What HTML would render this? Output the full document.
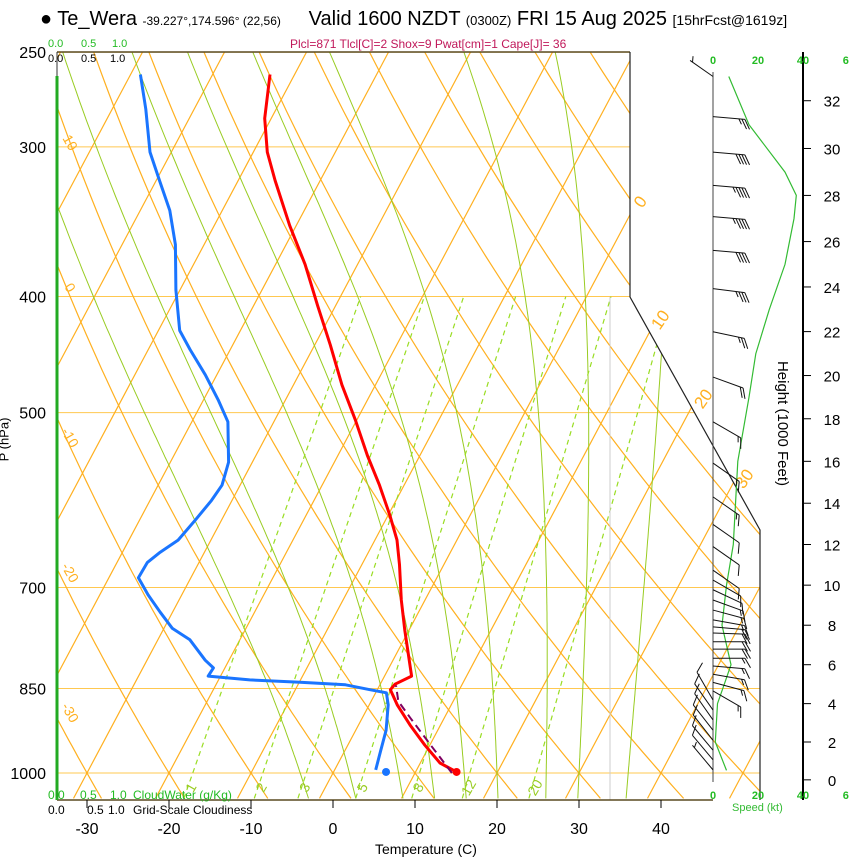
<!DOCTYPE html>
<html><head><meta charset="utf-8"><style>
body{margin:0;background:#fff;}
svg{display:block;font-family:"Liberation Sans",Arial,sans-serif;}
</style></head><body>
<svg id="c" width="850" height="860" viewBox="0 0 850 860" xmlns="http://www.w3.org/2000/svg">
<defs><clipPath id="clip"><polygon points="57,52 630,52 630,297 760,530 760,800 57,800"/></clipPath></defs>
<g id="grid" clip-path="url(#clip)"></g>
<g id="data" clip-path="url(#clip)"></g>
<g id="frame"></g>
<g id="labels"></g>
<g id="wind"></g>
</svg>
<script>
// ---------- data ----------
const tempP=[261,284,303,320,349,376,407,439,474,507,543,575,609,639,670,717,760,830,843,852,877,912,948,981,998];
const tempT=[-53.0,-50.8,-48.3,-45.5,-40.8,-36.4,-32.2,-28.1,-24.1,-20.2,-16.4,-13.0,-9.8,-7.3,-5.4,-2.9,-0.5,3.3,1.8,1.6,3.4,6.3,9.4,12.4,15.0];
const dewP=[261,279,303,320,339,362,395,427,443,465,488,509,550,575,592,615,639,654,667,687,710,734,757,774,805,817,830,836,840,844,852,857,877,921,960,994];
const dewT=[-68.8,-65.9,-62.6,-59.6,-56.4,-53.5,-50.5,-47.4,-44.9,-41.4,-38.2,-35.6,-32.9,-32.2,-32.5,-33.2,-34.0,-35.4,-36.3,-36.4,-34.1,-31.5,-29.0,-26.1,-22.9,-21.4,-21.5,-16.2,-9.9,-4.2,-0.9,1.3,2.3,3.7,4.4,5.0];
const parcelP=[1000,950,900,871,845];
const parcelT=[14.5,10.3,5.9,3.3,2.0];
const sfcT=15.0, sfcTd=6.4;
const windP=[262,283,303,323,343,366,394,428,467,509,551,588,620,647,677,690,703,717,731,745,755,764,777,788,802,814,827,840,854,869,886,903,921,939,957,975,994];
const windDir=[305,95,95,95,95,95,97,102,110,120,125,125,125,125,125,120,115,110,105,100,95,92,90,90,90,95,100,105,120,330,325,325,322,322,320,320,320];
const windSpd=[5,25,40,45,45,40,35,25,20,15,15,15,12,12,10,12,12,15,15,18,20,22,20,20,18,18,18,18,15,10,10,10,10,10,10,10,5];
const speedProfH=[33,31,29,28,27,25,23,21,19,16,12,10,8,6,5,4,2,0.5];
const speedProfKt=[7,16,32,37,36,32,25,19,16,11,9,6,4,8,5,2,1,6];
const tempTicks=[-30,-20,-10,0,10,20,30,40];
const presTicks=[250,300,400,500,700,850,1000];
const heightTicks=[0,2,4,6,8,10,12,14,16,18,20,22,24,26,28,30,32];
const mixRatios=[1,2,3,5,8,12,20];
const isotherms=[-110,-100,-90,-80,-70,-60,-50,-40,-30,-20,-10,0,10,20,30,40,50];
const dryAdiabats=[-30,-20,-10,0,10,20,30,40,50,60,70,80,90,100,110,120,130,140,150,160,170];
const moistAdiabats=[-4,2,8,12,16,20,26,30,36];

// ---------- axes ----------
const yP=p=>773-520*Math.log(1000/p);
const xT=(T,p)=>333+8.2*T+0.532*(773-yP(p));
const speedX=k=>713+2.25*k;
const hToP=hk=>{const m=hk*304.8;return 1013.25*Math.pow(1-2.25577e-5*m,5.2559);};
const NS='http://www.w3.org/2000/svg';
function el(tag,attrs,parent,text){const e=document.createElementNS(NS,tag);for(const k in attrs)e.setAttribute(k,attrs[k]);if(text!==undefined)e.textContent=text;parent.appendChild(e);return e;}
const G=document.getElementById('grid'),D=document.getElementById('data'),F=document.getElementById('frame'),L=document.getElementById('labels'),W=document.getElementById('wind');
const pts=(arrP,arrT)=>arrP.map((p,i)=>xT(arrT[i],p).toFixed(1)+','+yP(p).toFixed(1)).join(' ');

presTicks.forEach(p=>{
  const l=el('line',{x1:57,x2:760,y1:yP(p),y2:yP(p),stroke:'#ffc850','stroke-width':1},G);
  
  
});
isotherms.forEach(T=>{
  const l=el('line',{x1:xT(T,1050),y1:yP(1050),x2:xT(T,250),y2:yP(250),stroke:'#ffb020','stroke-width':1.2},G);
  
  
});
const dryT=(th,p)=>(th+273.15)*Math.pow(p/1000,0.286)-273.15;
dryAdiabats.forEach(th=>{
  let s=[];for(let p=1050;p>=245;p-=10)s.push(xT(dryT(th,p),p).toFixed(1)+','+yP(p).toFixed(1));
  const l=el('polyline',{points:s.join(' '),fill:'none',stroke:'#ffb020','stroke-width':1.2},G);
  
  
});
function esat(T){return 6.112*Math.exp(17.67*T/(T+243.5));}
function rs(T,p){const e=esat(T);return 0.622*e/(p-e);}
moistAdiabats.forEach(t0=>{
  let T=t0,p=1000,s=[];
  let Td=t0,pd=1000;
  const step=(T,p)=>{const Tk=T+273.15,r=rs(T,p);return (287*Tk+2.5e6*r)/(1004+2.5e6*2.5e6*r*0.622/(287*Tk*Tk))/p;};
  while(pd<1050){Td+=step(Td,pd)*5;pd+=5;}
  s.push(xT(Td,pd).toFixed(1)+','+yP(pd).toFixed(1));
  while(p>245){s.push(xT(T,p).toFixed(1)+','+yP(p).toFixed(1));T-=step(T,p)*5;p-=5;}
  const l=el('polyline',{points:s.join(' '),fill:'none',stroke:'#99cc22','stroke-width':1},G);
  
  
});
function tdFromW(w,p){const e=w*p/(622+w);const a=Math.log(e/6.112);return 243.5*a/(17.67-a);}
mixRatios.forEach(w=>{
  const l=el('line',{x1:xT(tdFromW(w,1050),1050),y1:yP(1050),x2:xT(tdFromW(w,400),400),y2:yP(400),stroke:'#99dd22','stroke-width':1.2,'stroke-dasharray':'5,4'},G);
  
  
  const x=xT(tdFromW(w,1025),1025)+7,y=yP(1025)+4;
  const t=el('text',{x:x,y:y,fill:'#99cc22','font-size':14,'text-anchor':'middle',transform:`rotate(-60 ${x} ${y})`},L,String(w));
  
  
});
el('line',{x1:610,x2:610,y1:297,y2:800,stroke:'#ccc','stroke-width':1},G);

let dw=el('polyline',{points:pts(dewP,dewT),fill:'none',stroke:'#1a75ff','stroke-width':3,'stroke-linejoin':'round'},D);


let tp=el('polyline',{points:pts(tempP,tempT),fill:'none',stroke:'#ff0000','stroke-width':3,'stroke-linejoin':'round'},D);


let pc=el('polyline',{points:pts(parcelP,parcelT),fill:'none',stroke:'#800060','stroke-width':2,'stroke-dasharray':'8,5'},D);


let d1=el('circle',{cx:xT(sfcT,998),cy:yP(998),r:4,fill:'#ff0000'},D);


let d2=el('circle',{cx:xT(sfcTd,998),cy:yP(998),r:4,fill:'#1a75ff'},D);



el('line',{x1:57,y1:52,x2:630,y2:52,stroke:'#5a4a20','stroke-width':1.5},F);
el('polyline',{points:'630,52 630,297 760,530 760,800',fill:'none',stroke:'#222','stroke-width':1.2},F);
el('line',{x1:57,y1:800,x2:713,y2:800,stroke:'#5a4a20','stroke-width':1.5},F);
el('line',{x1:57,y1:52,x2:57,y2:800,stroke:'#333','stroke-width':1},F);
el('line',{x1:57,y1:76,x2:57,y2:800,stroke:'#22aa22','stroke-width':3},F);
el('line',{x1:713,y1:72,x2:713,y2:782,stroke:'#444','stroke-width':1},F);
el('line',{x1:803,y1:52,x2:803,y2:800,stroke:'#000','stroke-width':2},F);

[[10,145],[0,290],[-10,440],[-20,575],[-30,715]].forEach(([v,y])=>{
  const t=el('text',{x:66,y:y,fill:'#ffb020','font-size':14,'text-anchor':'middle',transform:`rotate(60 66 ${y})`},L,String(v));
  
  
});
[[0,645,205],[10,665,323],[20,708,402],[30,749,482]].forEach(([v,x,y])=>{
  const t=el('text',{x:x,y:y,fill:'#ffb020','font-size':17,'text-anchor':'middle',transform:`rotate(-55 ${x} ${y})`},L,String(v));
  
  
});
presTicks.forEach(p=>{
  const t=el('text',{x:46,y:yP(p)+6,'font-size':16,'text-anchor':'end',fill:'#000'},L,String(p));
  
  
});
tempTicks.forEach(T=>{
  const x=xT(T,1000);
  el('line',{x1:x,x2:x,y1:800,y2:808,stroke:'#000'},L);
  const t=el('text',{x:x,y:834,'font-size':16,'text-anchor':'middle'},L,String(T));
  
  
});
heightTicks.forEach(h=>{
  const y=yP(hToP(h));
  el('line',{x1:803,x2:811,y1:y,y2:y,stroke:'#000'},L);
  const t=el('text',{x:832,y:y+6,'font-size':15,'text-anchor':'middle'},L,String(h));
  
  
});
[[0,'0'],[20,'20'],[40,'40'],[59,'6']].forEach(([k,s])=>{
  [64,799].forEach(y=>{const t=el('text',{x:speedX(k),y:y,'font-size':11,'font-weight':'bold',fill:'#22bb22','text-anchor':'middle'},L,s);
  
  });
});

const sp=speedProfH.map((h,i)=>speedX(speedProfKt[i]).toFixed(1)+','+yP(hToP(h)).toFixed(1)).join(' ');
const spl=el('polyline',{points:sp,fill:'none',stroke:'#33bb33','stroke-width':1.2},W);



windP.forEach((p,i)=>{
  const y=yP(p),a=windDir[i]*Math.PI/180,ux=Math.sin(a),uy=-Math.cos(a),len=i===0?28:32;
  const tx=713+ux*len,ty=y+uy*len;
  const g=el('g',{stroke:'#111','stroke-width':1,fill:'none'},W);
  
  
  el('line',{x1:713,y1:y,x2:tx,y2:ty},g);
  const c=Math.cos(Math.PI/3),s=Math.sin(Math.PI/3);
  const fx=ux*c-uy*s,fy=ux*s+uy*c;
  let spd=windSpd[i],pos=0;
  while(spd>=10){const bx=tx-ux*pos,by=ty-uy*pos;el('line',{x1:bx,y1:by,x2:bx+fx*11,y2:by+fy*11},g);pos+=3;spd-=10;}
  if(spd>=5){if(pos===0)pos=3;const bx=tx-ux*pos,by=ty-uy*pos;el('line',{x1:bx,y1:by,x2:bx+fx*6,y2:by+fy*6},g);}
});
</script>
<div style="position:absolute;left:0;top:0;width:850px;height:860px;pointer-events:none;font-family:'Liberation Sans',Arial,sans-serif;">
  <div style="position:absolute;left:40px;top:8px;white-space:nowrap;font-size:20px;">● Te_Wera <span style="font-size:12px">-39.227°,174.596° (22,56)</span>&nbsp;&nbsp;&nbsp;&nbsp;&nbsp;Valid 1600 NZDT <span style="font-size:13px">(0300Z)</span> FRI 15 Aug 2025 <span style="font-size:14px">[15hrFcst@1619z]</span></div>
  <div style="position:absolute;left:290px;top:37px;font-size:12px;color:#c0185a;white-space:nowrap;">Plcl=871 Tlcl[C]=2 Shox=9 Pwat[cm]=1 Cape[J]= 36</div>
  <div style="position:absolute;top:38px;font-size:11px;color:#22bb22;white-space:nowrap;"><span style="position:absolute;left:48px">0.0</span><span style="position:absolute;left:81px">0.5</span><span style="position:absolute;left:112px">1.0</span></div>
  <div style="position:absolute;top:53px;font-size:11px;color:#000;white-space:nowrap;"><span style="position:absolute;left:48px">0.0</span><span style="position:absolute;left:81px">0.5</span><span style="position:absolute;left:110px">1.0</span></div>
  <div style="position:absolute;top:788px;font-size:12px;color:#22bb22;white-space:nowrap;"><span style="position:absolute;left:48px">0.0</span><span style="position:absolute;left:80px">0.5</span><span style="position:absolute;left:110px">1.0</span><span style="position:absolute;left:133px">CloudWater (g/Kg)</span></div>
  <div style="position:absolute;top:803px;font-size:12px;color:#000;white-space:nowrap;"><span style="position:absolute;left:48px">0.0</span><span style="position:absolute;left:87px">0.5</span><span style="position:absolute;left:108px">1.0</span><span style="position:absolute;left:133px">Grid-Scale Cloudiness</span></div>
  <div style="position:absolute;left:375px;top:841px;font-size:14px;">Temperature (C)</div>
  <div style="position:absolute;left:-18px;top:432px;font-size:13px;transform:rotate(-90deg);">P (hPa)</div>
  <div style="position:absolute;left:720px;top:415px;font-size:15px;transform:rotate(90deg);white-space:nowrap;">Height (1000 Feet)</div>
  <div style="position:absolute;left:732px;top:802px;font-size:11px;color:#33bb33;">Speed (kt)</div>
</div>
</body></html>
